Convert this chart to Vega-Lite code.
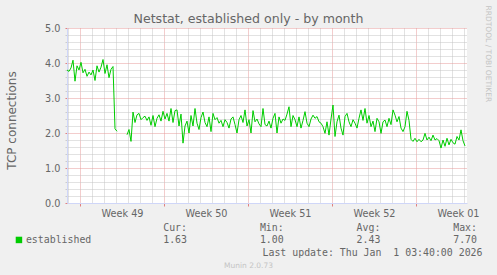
{
  "$schema": "https://vega.github.io/schema/vega-lite/v6.json",
  "width": 400,
  "height": 175,
  "autosize": {"type": "none"},
  "padding": {"left": 67, "top": 28, "right": 30, "bottom": 72},
  "background": "#f0f0f0",
  "config": {
    "view": {"stroke": null, "fill": "#ffffff"},
    "font": "DejaVu Sans"
  },
  "title": {
    "text": "Netstat, established only - by month",
    "font": "DejaVu Sans",
    "fontSize": 12.6,
    "fontWeight": "normal",
    "color": "#666666",
    "anchor": "middle",
    "frame": "group",
    "baseline": "alphabetic",
    "offset": 0,
    "dx": -18.5,
    "dy": 31
  },
  "resolve": {
    "scale": {"x": "independent", "y": "independent"},
    "axis": {"x": "independent", "y": "independent"}
  },
  "layer": [
    {
      "data": {
        "format": {"parse": {"t": "utc:'%Y-%m-%d %H'"}},
        "values": [
          {"t": "2025-11-29 22", "v": 3.80},
          {"t": "2025-11-30 02", "v": 3.76}, {"t": "2025-11-30 06", "v": 3.86}, {"t": "2025-11-30 10", "v": 4.08}, {"t": "2025-11-30 14", "v": 3.48}, {"t": "2025-11-30 18", "v": 3.92}, {"t": "2025-11-30 22", "v": 3.80},
          {"t": "2025-12-01 02", "v": 4.02}, {"t": "2025-12-01 06", "v": 3.72}, {"t": "2025-12-01 10", "v": 3.82}, {"t": "2025-12-01 14", "v": 3.62}, {"t": "2025-12-01 18", "v": 3.74}, {"t": "2025-12-01 22", "v": 3.66},
          {"t": "2025-12-02 02", "v": 3.80}, {"t": "2025-12-02 06", "v": 3.50}, {"t": "2025-12-02 10", "v": 3.92}, {"t": "2025-12-02 14", "v": 3.74}, {"t": "2025-12-02 18", "v": 3.88}, {"t": "2025-12-02 22", "v": 4.10},
          {"t": "2025-12-03 02", "v": 3.70}, {"t": "2025-12-03 06", "v": 3.95}, {"t": "2025-12-03 10", "v": 3.58}, {"t": "2025-12-03 14", "v": 3.82}, {"t": "2025-12-03 18", "v": 3.90}, {"t": "2025-12-03 22", "v": 2.12},
          {"t": "2025-12-04 02", "v": 2.05}, {"t": "2025-12-04 06", "v": null}, {"t": "2025-12-04 10", "v": null}, {"t": "2025-12-04 14", "v": null}, {"t": "2025-12-04 18", "v": null}, {"t": "2025-12-04 22", "v": 1.95},
          {"t": "2025-12-05 02", "v": 2.10}, {"t": "2025-12-05 06", "v": 1.76}, {"t": "2025-12-05 10", "v": 2.60}, {"t": "2025-12-05 14", "v": 2.30}, {"t": "2025-12-05 18", "v": 2.52}, {"t": "2025-12-05 22", "v": 2.56},
          {"t": "2025-12-06 02", "v": 2.38}, {"t": "2025-12-06 06", "v": 2.44}, {"t": "2025-12-06 10", "v": 2.48}, {"t": "2025-12-06 14", "v": 2.36}, {"t": "2025-12-06 18", "v": 2.46}, {"t": "2025-12-06 22", "v": 2.22},
          {"t": "2025-12-07 02", "v": 2.50}, {"t": "2025-12-07 06", "v": 2.18}, {"t": "2025-12-07 10", "v": 2.42}, {"t": "2025-12-07 14", "v": 2.52}, {"t": "2025-12-07 18", "v": 2.34}, {"t": "2025-12-07 22", "v": 2.62},
          {"t": "2025-12-08 02", "v": 2.40}, {"t": "2025-12-08 06", "v": 2.56}, {"t": "2025-12-08 10", "v": 2.34}, {"t": "2025-12-08 14", "v": 2.70}, {"t": "2025-12-08 18", "v": 2.30}, {"t": "2025-12-08 22", "v": 2.64},
          {"t": "2025-12-09 02", "v": 2.66}, {"t": "2025-12-09 06", "v": 2.20}, {"t": "2025-12-09 10", "v": 2.54}, {"t": "2025-12-09 14", "v": 1.71}, {"t": "2025-12-09 18", "v": 2.20}, {"t": "2025-12-09 22", "v": 2.34},
          {"t": "2025-12-10 02", "v": 2.00}, {"t": "2025-12-10 06", "v": 2.50}, {"t": "2025-12-10 10", "v": 2.20}, {"t": "2025-12-10 14", "v": 2.70}, {"t": "2025-12-10 18", "v": 2.28}, {"t": "2025-12-10 22", "v": 2.10},
          {"t": "2025-12-11 02", "v": 2.44}, {"t": "2025-12-11 06", "v": 2.60}, {"t": "2025-12-11 10", "v": 2.30}, {"t": "2025-12-11 14", "v": 2.18}, {"t": "2025-12-11 18", "v": 2.46}, {"t": "2025-12-11 22", "v": 2.04},
          {"t": "2025-12-12 02", "v": 2.56}, {"t": "2025-12-12 06", "v": 2.38}, {"t": "2025-12-12 10", "v": 2.44}, {"t": "2025-12-12 14", "v": 2.28}, {"t": "2025-12-12 18", "v": 2.36}, {"t": "2025-12-12 22", "v": 2.18},
          {"t": "2025-12-13 02", "v": 2.38}, {"t": "2025-12-13 06", "v": 2.30}, {"t": "2025-12-13 10", "v": 2.14}, {"t": "2025-12-13 14", "v": 2.40}, {"t": "2025-12-13 18", "v": 2.46}, {"t": "2025-12-13 22", "v": 2.24},
          {"t": "2025-12-14 02", "v": 2.00}, {"t": "2025-12-14 06", "v": 2.38}, {"t": "2025-12-14 10", "v": 2.50}, {"t": "2025-12-14 14", "v": 2.30}, {"t": "2025-12-14 18", "v": 2.66}, {"t": "2025-12-14 22", "v": 2.20},
          {"t": "2025-12-15 02", "v": 2.38}, {"t": "2025-12-15 06", "v": 2.00}, {"t": "2025-12-15 10", "v": 2.64}, {"t": "2025-12-15 14", "v": 2.32}, {"t": "2025-12-15 18", "v": 2.40}, {"t": "2025-12-15 22", "v": 2.26},
          {"t": "2025-12-16 02", "v": 2.18}, {"t": "2025-12-16 06", "v": 2.70}, {"t": "2025-12-16 10", "v": 2.24}, {"t": "2025-12-16 14", "v": 2.20}, {"t": "2025-12-16 18", "v": 2.34}, {"t": "2025-12-16 22", "v": 2.14},
          {"t": "2025-12-17 02", "v": 2.42}, {"t": "2025-12-17 06", "v": 2.56}, {"t": "2025-12-17 10", "v": 2.00}, {"t": "2025-12-17 14", "v": 2.46}, {"t": "2025-12-17 18", "v": 2.28}, {"t": "2025-12-17 22", "v": 2.40},
          {"t": "2025-12-18 02", "v": 2.36}, {"t": "2025-12-18 06", "v": 2.54}, {"t": "2025-12-18 10", "v": 2.75}, {"t": "2025-12-18 14", "v": 2.18}, {"t": "2025-12-18 18", "v": 2.50}, {"t": "2025-12-18 22", "v": 2.38},
          {"t": "2025-12-19 02", "v": 2.18}, {"t": "2025-12-19 06", "v": 2.46}, {"t": "2025-12-19 10", "v": 2.14}, {"t": "2025-12-19 14", "v": 2.36}, {"t": "2025-12-19 18", "v": 2.61}, {"t": "2025-12-19 22", "v": 2.28},
          {"t": "2025-12-20 02", "v": 2.18}, {"t": "2025-12-20 06", "v": 2.40}, {"t": "2025-12-20 10", "v": 2.51}, {"t": "2025-12-20 14", "v": 2.42}, {"t": "2025-12-20 18", "v": 2.47}, {"t": "2025-12-20 22", "v": 2.32},
          {"t": "2025-12-21 02", "v": 2.28}, {"t": "2025-12-21 06", "v": 2.18}, {"t": "2025-12-21 10", "v": 1.99}, {"t": "2025-12-21 14", "v": 2.32}, {"t": "2025-12-21 18", "v": 1.94}, {"t": "2025-12-21 22", "v": 2.40},
          {"t": "2025-12-22 02", "v": 2.80}, {"t": "2025-12-22 06", "v": 1.90}, {"t": "2025-12-22 10", "v": 2.32}, {"t": "2025-12-22 14", "v": 2.51}, {"t": "2025-12-22 18", "v": 2.14}, {"t": "2025-12-22 22", "v": 1.94},
          {"t": "2025-12-23 02", "v": 2.47}, {"t": "2025-12-23 06", "v": 2.56}, {"t": "2025-12-23 10", "v": 2.32}, {"t": "2025-12-23 14", "v": 2.18}, {"t": "2025-12-23 18", "v": 2.38}, {"t": "2025-12-23 22", "v": 2.28},
          {"t": "2025-12-24 02", "v": 2.14}, {"t": "2025-12-24 06", "v": 2.42}, {"t": "2025-12-24 10", "v": 2.66}, {"t": "2025-12-24 14", "v": 2.36}, {"t": "2025-12-24 18", "v": 2.70}, {"t": "2025-12-24 22", "v": 2.28},
          {"t": "2025-12-25 02", "v": 2.50}, {"t": "2025-12-25 06", "v": 2.18}, {"t": "2025-12-25 10", "v": 2.34}, {"t": "2025-12-25 14", "v": 2.04}, {"t": "2025-12-25 18", "v": 2.42}, {"t": "2025-12-25 22", "v": 2.32},
          {"t": "2025-12-26 02", "v": 1.99}, {"t": "2025-12-26 06", "v": 2.32}, {"t": "2025-12-26 10", "v": 2.37}, {"t": "2025-12-26 14", "v": 2.18}, {"t": "2025-12-26 18", "v": 2.42}, {"t": "2025-12-26 22", "v": 2.24},
          {"t": "2025-12-27 02", "v": 2.66}, {"t": "2025-12-27 06", "v": 2.51}, {"t": "2025-12-27 10", "v": 2.32}, {"t": "2025-12-27 14", "v": 2.47}, {"t": "2025-12-27 18", "v": 2.14}, {"t": "2025-12-27 22", "v": 2.04},
          {"t": "2025-12-28 02", "v": 2.18}, {"t": "2025-12-28 06", "v": 2.62}, {"t": "2025-12-28 10", "v": 2.36}, {"t": "2025-12-28 14", "v": 1.82}, {"t": "2025-12-28 18", "v": 1.76}, {"t": "2025-12-28 22", "v": 1.85},
          {"t": "2025-12-29 02", "v": 1.75}, {"t": "2025-12-29 06", "v": 1.82}, {"t": "2025-12-29 10", "v": 1.75}, {"t": "2025-12-29 14", "v": 1.80}, {"t": "2025-12-29 18", "v": 1.99}, {"t": "2025-12-29 22", "v": 1.80},
          {"t": "2025-12-30 02", "v": 1.88}, {"t": "2025-12-30 06", "v": 1.78}, {"t": "2025-12-30 10", "v": 1.94}, {"t": "2025-12-30 14", "v": 1.80}, {"t": "2025-12-30 18", "v": 1.84}, {"t": "2025-12-30 22", "v": 1.78},
          {"t": "2025-12-31 02", "v": 1.57}, {"t": "2025-12-31 06", "v": 1.80}, {"t": "2025-12-31 10", "v": 1.62}, {"t": "2025-12-31 14", "v": 1.85}, {"t": "2025-12-31 18", "v": 1.66}, {"t": "2025-12-31 22", "v": 1.82},
          {"t": "2026-01-01 02", "v": 1.72}, {"t": "2026-01-01 06", "v": 1.68}, {"t": "2026-01-01 10", "v": 1.90}, {"t": "2026-01-01 14", "v": 1.80}, {"t": "2026-01-01 18", "v": 2.09}, {"t": "2026-01-01 22", "v": 1.78},
          {"t": "2026-01-02 02", "v": 1.63}
        ]
      },
      "mark": {"type": "line", "strokeWidth": 1, "clip": true, "invalid": "break-paths-show-domains"},
      "encoding": {
        "x": {
          "field": "t",
          "type": "temporal",
          "scale": {
            "type": "utc",
            "domain": [
              {"year": 2025, "month": 11, "date": 29, "hours": 22, "utc": true},
              {"year": 2026, "month": 1, "date": 2, "hours": 6, "utc": true}
            ]
          },
          "axis": {
            "orient": "bottom",
            "tickCount": {"interval": "day", "step": 1},
            "grid": true,
            "gridDash": [1, 1],
            "gridWidth": 1,
            "gridColor": {"condition": {"test": "utcday(datum.value) === 1", "value": "#e69a9a"}, "value": "#c4c4c4"},
            "domainColor": "#cfd6f8",
            "domainWidth": 1,
            "tickColor": {"condition": {"test": "utcday(datum.value) === 1", "value": "#e08080"}, "value": "transparent"},
            "tickSize": 3,
            "labelExpr": "utcday(datum.value) === 1 ? 'Week ' + utcFormat(datum.value, '%V') : ''",
            "labelOffset": 42,
            "labelOverlap": false,
            "labelFlush": false,
            "labelBound": false,
            "labelPadding": 2,
            "labelFont": "DejaVu Sans",
            "labelFontSize": 9.7,
            "labelColor": "#666666",
            "title": "Last update: Thu Jan \u00a01 03:40:00 2026",
            "titleFont": "DejaVu Sans Mono",
            "titleFontSize": 9.9,
            "titleFontWeight": "normal",
            "titleColor": "#666666",
            "titleAlign": "right",
            "titleBaseline": "alphabetic",
            "titleX": 415,
            "titleY": 52.5
          }
        },
        "y": {
          "field": "v",
          "type": "quantitative",
          "scale": {"domain": [0, 5], "nice": false, "zero": true},
          "axis": {
            "orient": "left",
            "values": [0, 0.2, 0.4, 0.6, 0.8, 1, 1.2, 1.4, 1.6, 1.8, 2, 2.2, 2.4, 2.6, 2.8, 3, 3.2, 3.4, 3.6, 3.8, 4, 4.2, 4.4, 4.6, 4.8, 5],
            "grid": true,
            "gridDash": [1, 1],
            "gridWidth": 1,
            "gridColor": {"condition": {"test": "abs(datum.value - round(datum.value)) < 0.01", "value": "#e69a9a"}, "value": "#c4c4c4"},
            "domainColor": "#cfd6f8",
            "domainWidth": 1,
            "tickColor": {"condition": {"test": "abs(datum.value - round(datum.value)) < 0.01", "value": "#e08080"}, "value": "#cccccc"},
            "tickSize": 2,
            "labelExpr": "abs(datum.value - round(datum.value)) < 0.01 ? format(datum.value, '.1f') : ''",
            "labelOverlap": false,
            "labelFlush": false,
            "labelPadding": 5,
            "labelFont": "DejaVu Sans",
            "labelFontSize": 9.7,
            "labelColor": "#666666",
            "labelBaseline": "middle",
            "title": "TCP connections",
            "titleFont": "DejaVu Sans",
            "titleFontSize": 12,
            "titleFontWeight": "normal",
            "titleColor": "#666666",
            "titleAngle": -90,
            "titleAlign": "center",
            "titleBaseline": "alphabetic",
            "titleX": -52,
            "titleY": 92
          }
        },
        "color": {
          "datum": "established",
          "scale": {"range": ["#00cc00"]},
          "legend": {
            "orient": "none",
            "legendX": -53,
            "legendY": 207,
            "title": null,
            "padding": 0,
            "symbolType": "square",
            "symbolSize": 42,
            "symbolStrokeWidth": 0,
            "symbolFillColor": "#00cc00",
            "labelFont": "DejaVu Sans Mono",
            "labelFontSize": 9.9,
            "labelColor": "#666666",
            "labelOffset": 2,
            "encode": {"symbols": {"update": {"fill": {"value": "#00cc00"}, "strokeWidth": {"value": 0}}}}
          }
        }
      }
    },
    {
      "data": {
        "values": [
          {"stat": "Cur:\u00a0", "value": "1.63"},
          {"stat": "Min:\u00a0", "value": "1.00"},
          {"stat": "Avg:\u00a0", "value": "2.43"},
          {"stat": "Max:\u00a0", "value": "7.70"}
        ]
      },
      "transform": [{"fold": ["stat", "value"], "as": ["line", "text"]}],
      "mark": {"type": "text", "align": "right", "baseline": "alphabetic", "font": "DejaVu Sans Mono", "fontSize": 9.9, "color": "#666666"},
      "encoding": {
        "x": {
          "field": "stat",
          "type": "nominal",
          "sort": null,
          "scale": {"type": "point", "range": [120, 410], "padding": 0},
          "axis": {
            "orient": "bottom",
            "labels": false,
            "ticks": false,
            "domain": false,
            "grid": false,
            "title": "Munin 2.0.73",
            "titleFont": "DejaVu Sans",
            "titleFontSize": 7.5,
            "titleFontWeight": "normal",
            "titleColor": "#c4c4c4",
            "titleAlign": "center",
            "titleBaseline": "alphabetic",
            "titleX": 181,
            "titleY": 64
          }
        },
        "y": {
          "field": "line",
          "type": "nominal",
          "scale": {"type": "point", "domain": ["stat", "value"], "range": [203, 215], "padding": 0},
          "axis": {
            "orient": "right",
            "labels": false,
            "ticks": false,
            "domain": false,
            "grid": false,
            "title": "RRDTOOL / TOBI OETIKER",
            "titleFont": "DejaVu Sans",
            "titleFontSize": 7.5,
            "titleFontWeight": "normal",
            "titleColor": "#c4c4c4",
            "titleAngle": 90,
            "titleAlign": "left",
            "titleBaseline": "alphabetic",
            "titleX": 18,
            "titleY": -23
          }
        },
        "text": {"field": "text"}
      }
    }
  ]
}
